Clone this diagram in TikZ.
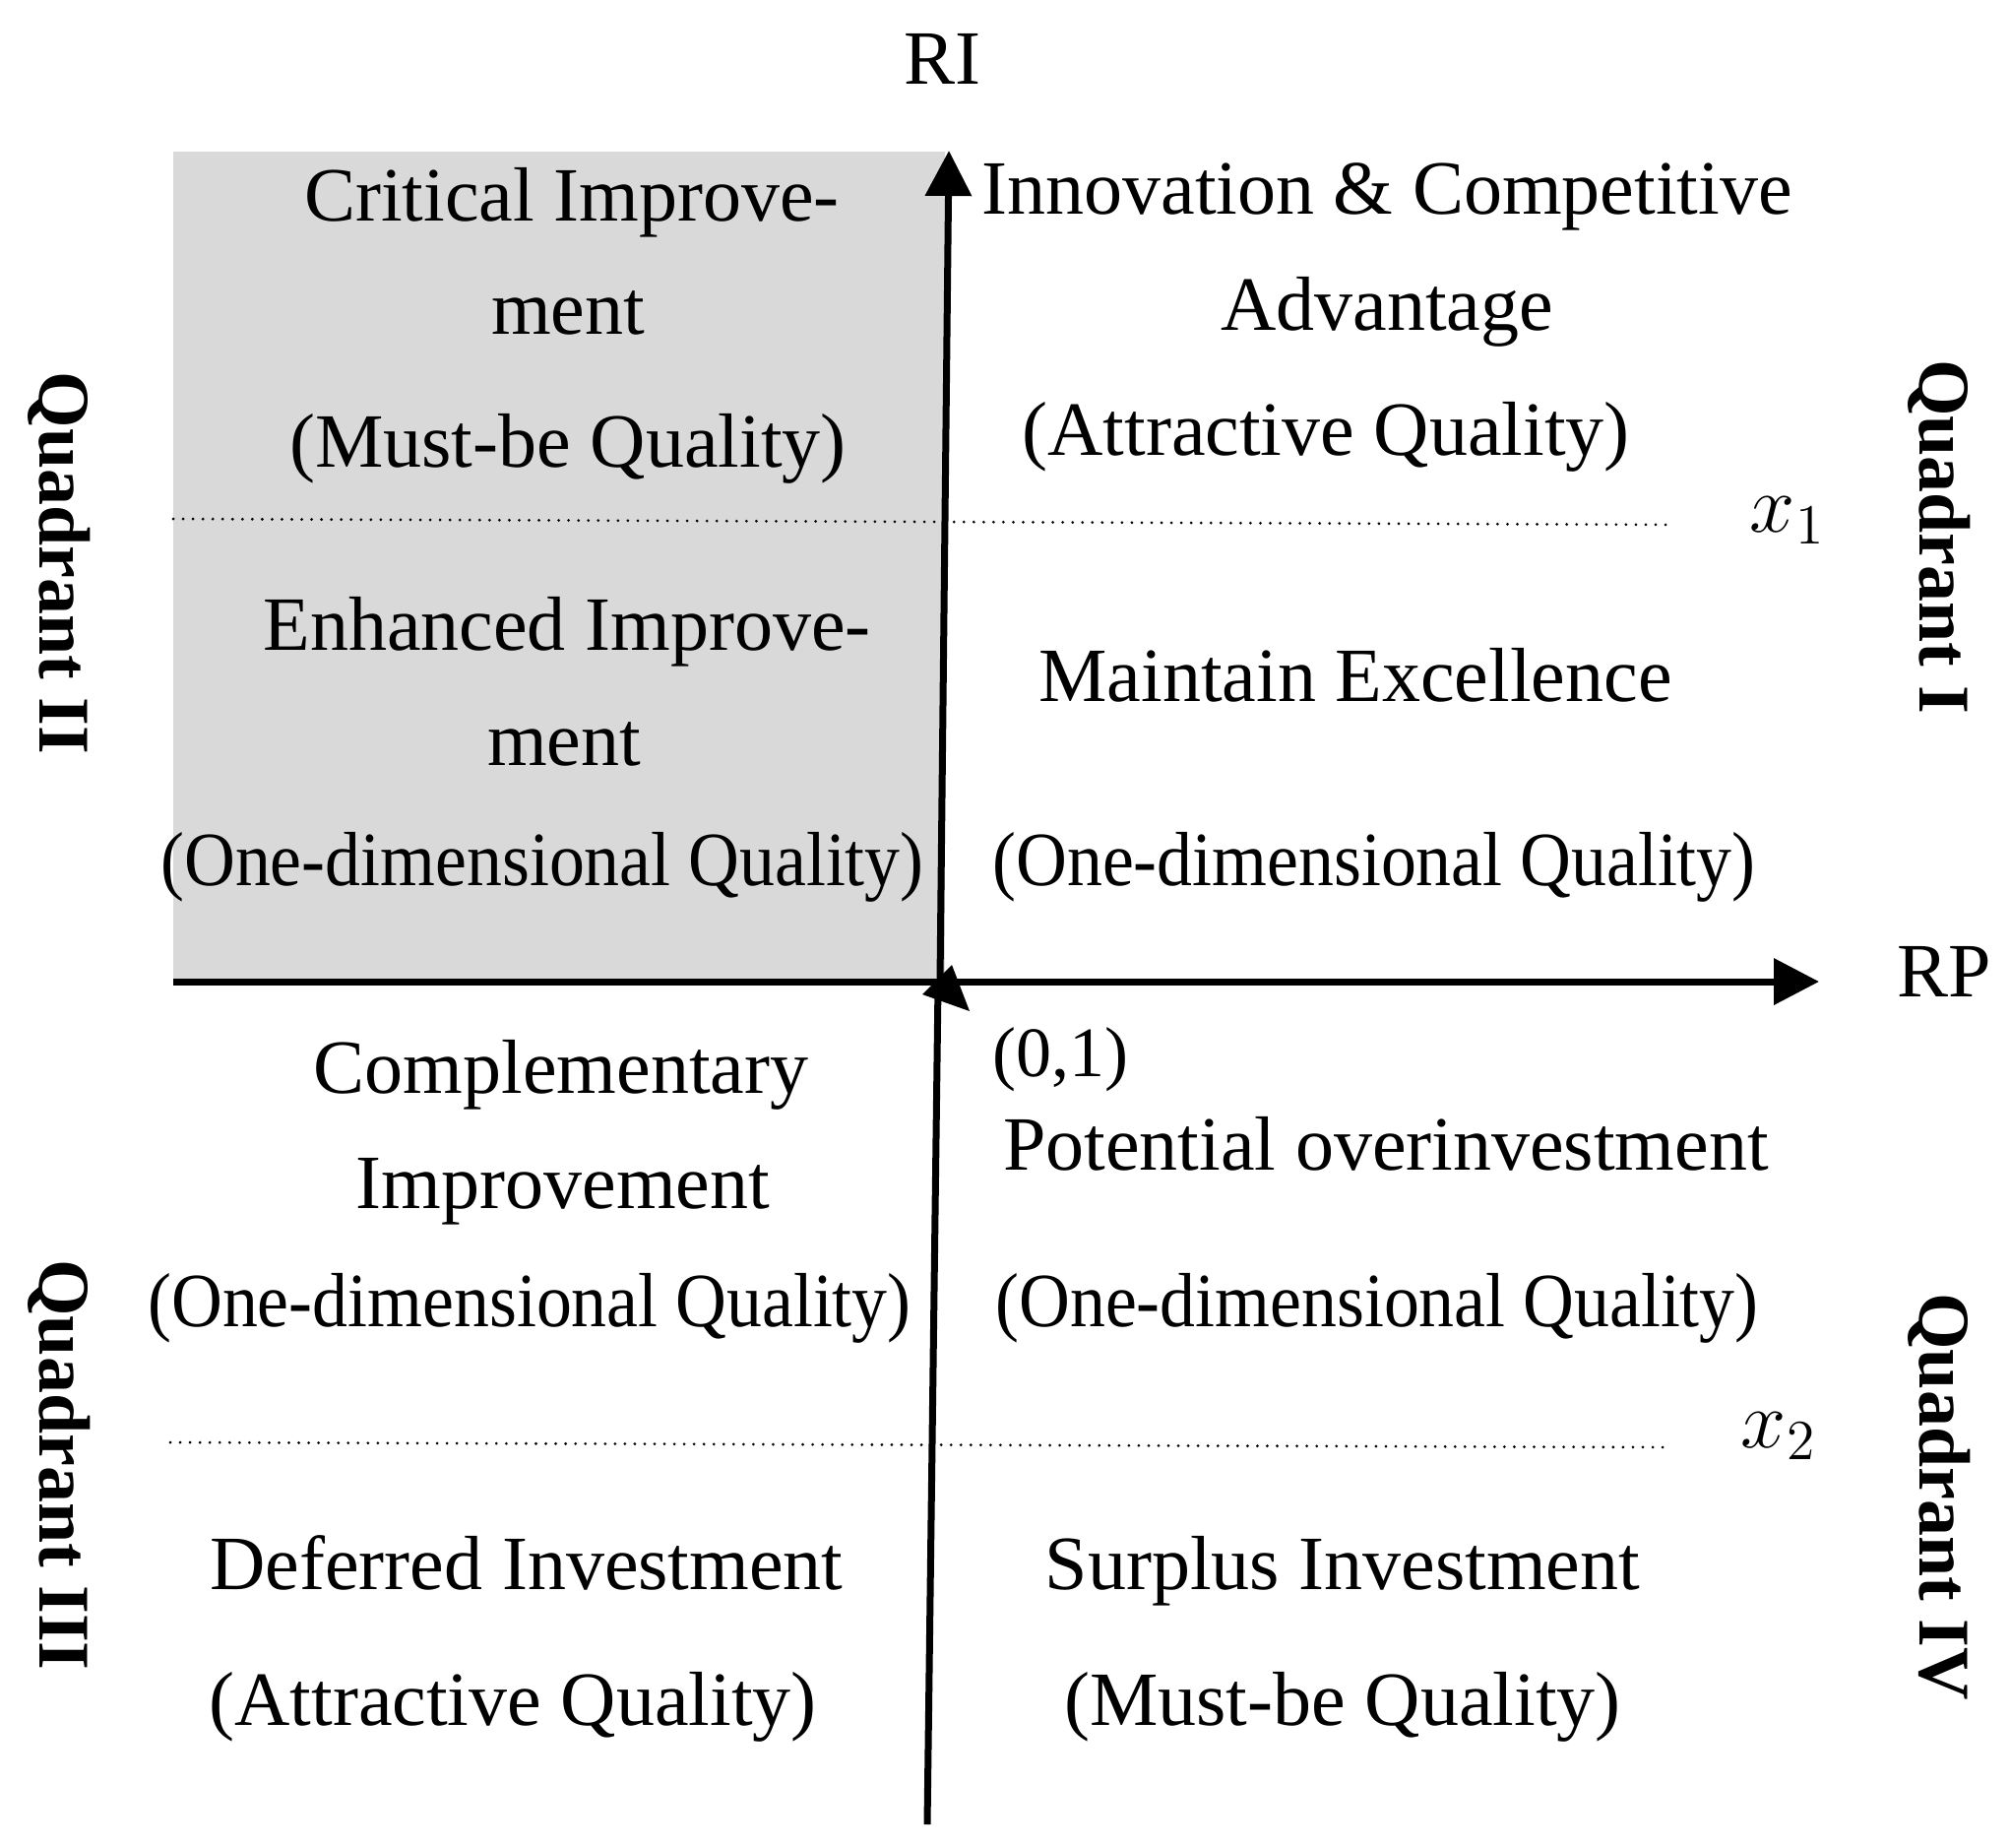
\documentclass[tikz,border=0pt]{standalone}
\usepackage{fontspec}
\setmainfont{Liberation Serif}
\usetikzlibrary{arrows.meta}
\definecolor{quadgray}{RGB}{217,217,217}
\begin{document}
\begin{tikzpicture}[x=0.25pt,y=-0.25pt,
  lbl/.style={anchor=base, inner sep=0pt, font=\fontsize{19.5}{23}\selectfont},
  small/.style={anchor=base, inner sep=0pt, font=\fontsize{18}{22}\selectfont},
  quad/.style={anchor=base, inner sep=0pt, rotate=-90, font=\fontsize{18.5}{22}\selectfont\bfseries},
  axisline/.style={line width=1.75pt},
  tip/.style={-{Triangle[length=11.5pt,width=11.5pt]}},
  guide/.style={line width=0.75pt, dash pattern=on 0.01pt off 2.5pt, line cap=round},
  xlab/.style={anchor=base, inner sep=0pt, font=\fontsize{21}{24}\selectfont}]
\useasboundingbox (0,0) rectangle (2042,1876);
% shaded quadrant
\fill[quadgray] (176,154) rectangle (960,994);
% axes
\coordinate (hs) at (176,997);
\coordinate (he) at (1848,997);
\coordinate (vo) at (955,996);
\coordinate (vt) at (964,153);
\coordinate (vb) at (942,1853);
\coordinate (vm) at (953,1000);
\draw[axisline,tip] (hs) -- (he);
\draw[axisline,tip] (vo) -- (vt);
\draw[axisline] (vb) -- (vm);
\fill (967,980) -- (937,1010) -- (985,1027) -- cycle;
% thresholds
\coordinate (g1s) at (176,527);
\coordinate (g1e) at (1702,533);
\coordinate (g2s) at (173,1465);
\coordinate (g2e) at (1690,1470);
\draw[guide] (g1s) -- (g1e);
\draw[guide] (g2s) -- (g2e);
\node[xlab] (x1) at (1816,540) {$x_1$};
\node[xlab] (x2) at (1807,1470) {$x_2$};
% axis labels
\node[lbl] (RI) at (957,85) {RI};
\node[lbl] (RP) at (1975,1012) {RP};
\node[small] (orig) at (1077,1093) {(0,1)};
% quadrant labels
\node[quad] (QII) at (40,572) {Quadrant II};
\node[quad] (QI) at (1950,545) {Quadrant I};
\node[quad] (QIII) at (40,1488) {Quadrant III};
\node[quad] (QIV) at (1950,1520) {Quadrant IV};
% Quadrant II
\node[lbl] (a1) at (581,224) {Critical Improve-};
\node[lbl] (a2) at (577,339) {ment};
\node[lbl] (a3) at (577,474) {(Must-be Quality)};
\node[lbl] (b1) at (576,660) {Enhanced Improve-};
\node[lbl] (b2) at (573,777) {ment};
\node[lbl] (b3) at (551,899) {\scalebox{0.92}[1]{(One-dimensional Quality)}};
% Quadrant I
\node[lbl] (c1) at (1409,217) {Innovation \& Competitive};
\node[lbl] (c2) at (1409,335) {Advantage};
\node[lbl] (c3) at (1347,462) {(Attractive Quality)};
\node[lbl] (d1) at (1377,712) {Maintain Excellence};
\node[lbl] (d2) at (1396,899) {\scalebox{0.92}[1]{(One-dimensional Quality)}};
% Quadrant III
\node[lbl] (e1) at (570,1110) {Complementary};
\node[lbl] (e2) at (572,1227) {Improvement};
\node[lbl] (e3) at (538,1347) {\scalebox{0.92}[1]{(One-dimensional Quality)}};
\node[lbl] (f1) at (535,1614) {Deferred Investment};
\node[lbl] (f2) at (521,1752) {(Attractive Quality)};
% Quadrant IV
\node[lbl] (g1) at (1408,1188) {Potential overinvestment};
\node[lbl] (g2) at (1399,1347) {\scalebox{0.92}[1]{(One-dimensional Quality)}};
\node[lbl] (h1) at (1364,1614) {Surplus Investment};
\node[lbl] (h2) at (1364,1752) {(Must-be Quality)};
\end{tikzpicture}
\end{document}
